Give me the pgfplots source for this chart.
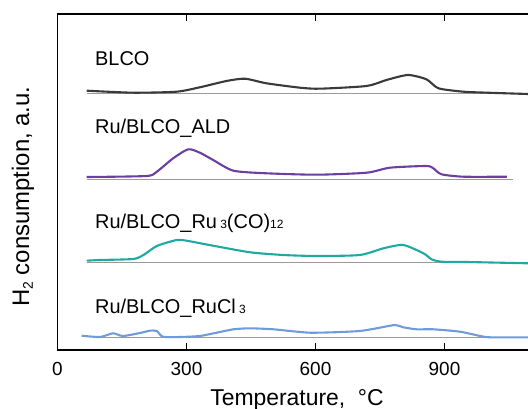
\documentclass[border=0pt]{standalone}
\usepackage{pgfplots}
\pgfplotsset{compat=1.18}
\usepackage{fontspec}
\setmainfont{Liberation Sans}
\definecolor{cblco}{HTML}{3A3A3A}
\definecolor{cald}{HTML}{6B3FA0}
\definecolor{cru}{HTML}{1FA9A3}
\definecolor{ccl}{HTML}{6F9BDC}
\definecolor{cbase}{HTML}{9A9A9A}
\begin{document}
\begin{tikzpicture}
\useasboundingbox (-57.5bp,-59bp) rectangle (470.5bp,350bp);
\begin{axis}[
  scale only axis, width=480bp, height=336bp,
  xmin=0, xmax=1116.3, ymin=0, ymax=336,
  xtick={0,300,600,900}, ytick=\empty,
  tick align=inside, major tick length=7bp,
  axis line style={line width=1.3bp},
  every tick/.style={line width=1.2bp, black},
  xtick pos=both,
  /pgf/number format/assume math mode=true,
  ticklabel style={font=\fontsize{19}{19}\selectfont},
  xticklabel style={yshift=-9bp},
  clip=false,
]
% baselines
\addplot[cbase, line width=0.8bp] coordinates {(68,256.7) (1116,256.7)};
\addplot[cbase, line width=0.8bp] coordinates {(68,171) (1060,171)};
\addplot[cbase, line width=0.8bp] coordinates {(68,87.7) (1060,87.7)};
\addplot[cbase, line width=0.8bp] coordinates {(91,12.3) (1060,12.3)};
% BLCO
\addplot[cblco, line width=2.1bp, smooth, tension=0.4] coordinates {
(68,259.3) (176,257.3) (277,258.3) (331,262.7) (393,269) (436,271.3) (486,266.7)
(564,262.3) (610,261.3) (719,264) (765,270) (815,275) (858,270.7) (886,261.7)
(944,258.3) (1000,257.3) (1094,256)};
% ALD
\addplot[cald, line width=2.1bp, smooth, tension=0.4] coordinates {
(68,173) (207,174) (231,178.3) (269,191.7) (304,200.7) (331,197.3) (362,190) (409,179.3)
(486,176.7) (603,175.3) (719,177.3) (773,182.3) (858,184) (874,181.7) (893,175.7)
(944,173.3) (1045,173.3)};
% Ru3(CO)12
\addplot[cru, line width=2.1bp, smooth, tension=0.4] coordinates {
(68,89.3) (99,90) (176,91) (200,95) (231,104) (277,110) (300,109.3) (362,104.3)
(448,97.7) (525,95) (603,94) (703,95) (758,101.7) (804,105) (851,96.7) (870,90.7)
(893,88.3) (952,88) (1094,86.7)};
% RuCl3
\addplot[ccl, line width=2.1bp, smooth, tension=0.4] coordinates {
(56,14.3) (99,13) (129,16.7) (152,14) (192,17) (215,19.3) (231,19) (245,13.3) (285,13)
(331,14) (370,17.3) (409,20.7) (448,21.7) (502,20.7) (541,19) (587,17.3) (641,17.7)
(703,19) (742,21.7) (785,25) (804,22.7) (835,20.7) (874,20.7) (936,18.3) (983,14)
(1006,12.7) (1094,12.7)};
\end{axis}
\begin{scope}[every node/.style={inner sep=0pt, anchor=base west}]
\node[font=\fontsize{20}{20}\selectfont] at (37.5bp,284bp) {BLCO};
\node[font=\fontsize{20}{20}\selectfont] at (37.5bp,216bp) {Ru/BLCO\_ALD};
\node[font=\fontsize{20}{20}\selectfont] at (37.5bp,121bp) {Ru/BLCO\_Ru\,{\fontsize{12}{12}\selectfont 3}(CO){\fontsize{12}{12}\selectfont 12}};
\node[font=\fontsize{20}{20}\selectfont] at (37.5bp,36.7bp) {Ru/BLCO\_RuCl\,{\fontsize{12}{12}\selectfont 3}};
\end{scope}
\node[rotate=90, inner sep=0pt, font=\fontsize{24}{24}\selectfont] at (-34.5bp,153.3bp) {H{\raisebox{-0.3ex}{\fontsize{14}{14}\selectfont 2}} consumption, a.u.};
\node[inner sep=0pt, font=\fontsize{23}{23}\selectfont] at (239.5bp,-50bp) {Temperature,\ \ °C};
\end{tikzpicture}
\end{document}
